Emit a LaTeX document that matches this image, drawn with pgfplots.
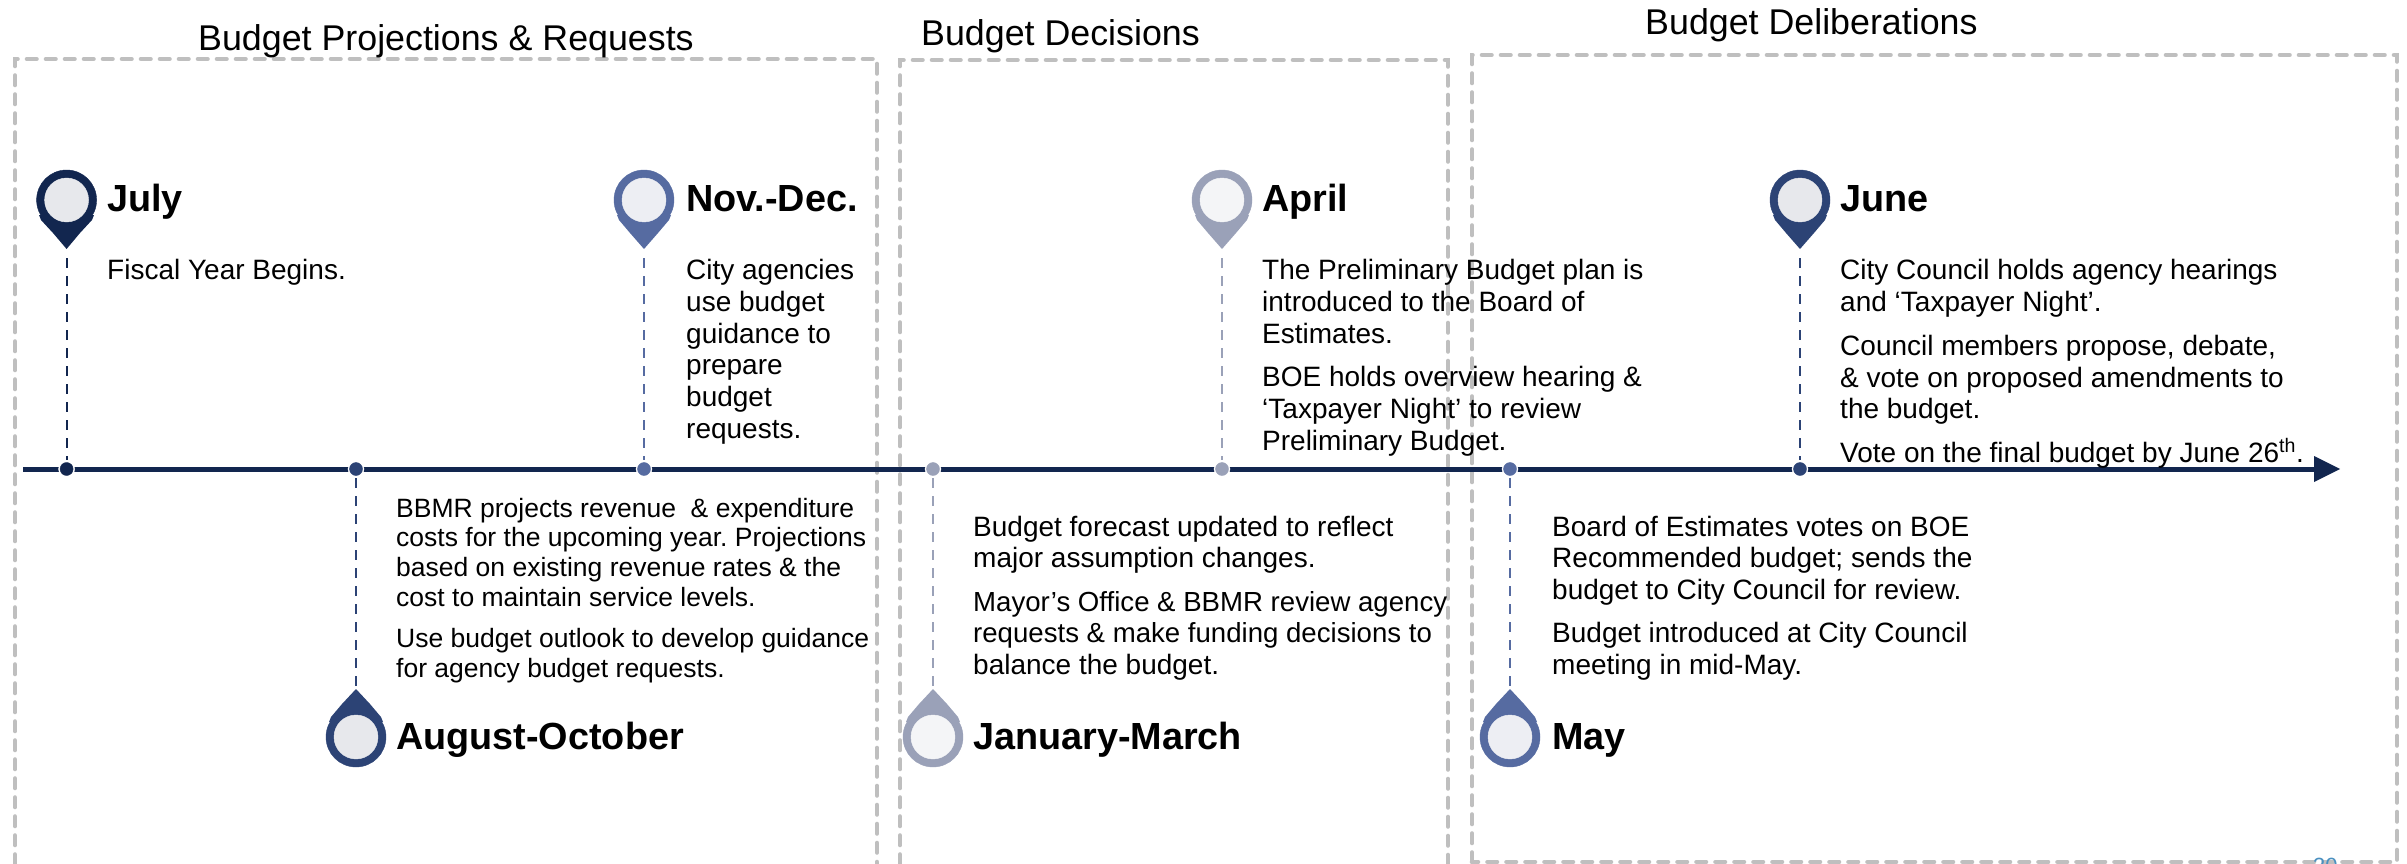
\documentclass[border=0pt]{standalone}
\usepackage{pgfplots}
\pgfplotsset{compat=1.18}
\usepackage{fontspec}
\setmainfont{Liberation Sans}
\frenchspacing
\definecolor{navy}{HTML}{12264F}
\definecolor{mid}{HTML}{2C4375}
\definecolor{blu}{HTML}{566BA1}
\definecolor{gry}{HTML}{9AA1B8}
\definecolor{box}{HTML}{BFBFBF}
\definecolor{inA}{HTML}{E7E8EC}
\definecolor{inB}{HTML}{EDEEF3}
\definecolor{inC}{HTML}{F4F5F7}
\definecolor{pageno}{HTML}{4A90C0}
\newcommand{\T}[3]{\node[anchor=base west,inner sep=0pt,font=\fontsize{28}{32}\selectfont] at (axis cs:#1,#2) {#3};}
\newcommand{\J}[3]{\node[anchor=base west,inner sep=0pt,font=\fontsize{27.6}{32}\selectfont] at (axis cs:#1,#2) {#3};}
\newcommand{\A}[3]{\node[anchor=base west,inner sep=0pt,font=\fontsize{26.5}{30}\selectfont] at (axis cs:#1,#2) {#3};}
\newcommand{\HH}[3]{\node[anchor=base west,inner sep=0pt,font=\fontsize{37.8}{42}\selectfont\bfseries] at (axis cs:#1,#2) {#3};}
\newcommand{\TT}[3]{\node[anchor=base west,inner sep=0pt,font=\fontsize{35.8}{40}\selectfont] at (axis cs:#1,#2) {#3};}
\begin{document}
\begin{tikzpicture}
\useasboundingbox (0,0) rectangle (2407pt,864pt);
\begin{axis}[scale only axis,width=2407pt,height=864pt,xmin=0,xmax=2407,ymin=0,ymax=864,y dir=reverse,hide axis,clip=true]
\addplot[box,line width=4.6pt,line cap=round,dash pattern=on 9.5pt off 9.5pt] coordinates {(15,864)(15,59)(877,59)(877,864)};
\addplot[box,line width=4.6pt,line cap=round,dash pattern=on 9.5pt off 9.5pt] coordinates {(900,864)(900,60)(1448,60)(1448,864)};
\addplot[box,line width=4.6pt,line cap=round,dash pattern=on 9.5pt off 9.5pt] coordinates {(1472,862)(1472,55)(2397,55)(2397,862)(1472,862)};
\addplot[navy,line width=5pt] coordinates {(23,469)(2316,469)};
\addplot[fill=navy,draw=none] coordinates {(2314,456)(2340,469)(2314,482)} --cycle;
% dashed stems
\addplot[navy,line width=2pt,dash pattern=on 10pt off 8pt] coordinates {(66.6,258)(66.6,460)};
\addplot[mid,line width=2pt,dash pattern=on 10pt off 8pt] coordinates {(356,478)(356,686)};
\addplot[blu,line width=2pt,dash pattern=on 10pt off 8pt] coordinates {(644,258)(644,460)};
\addplot[gry,line width=2pt,dash pattern=on 10pt off 8pt] coordinates {(933,478)(933,686)};
\addplot[gry,line width=2pt,dash pattern=on 10pt off 8pt] coordinates {(1222,258)(1222,460)};
\addplot[blu,line width=2pt,dash pattern=on 10pt off 8pt] coordinates {(1510,478)(1510,686)};
\addplot[mid,line width=2pt,dash pattern=on 10pt off 8pt] coordinates {(1800,258)(1800,460)};
% axis dots with white halo
\addplot[only marks,mark=*,mark size=8pt,mark options={draw=white,fill=white}] coordinates {(66.6,469)(356,469)(644,469)(933,469)(1222,469)(1510,469)(1800,469)};
\addplot[only marks,mark=*,mark size=6.5pt,mark options={fill=navy,draw=navy}] coordinates {(66.6,469)};
\addplot[only marks,mark=*,mark size=6.5pt,mark options={fill=mid,draw=mid}] coordinates {(356,469)(1800,469)};
\addplot[only marks,mark=*,mark size=6.5pt,mark options={fill=blu,draw=blu}] coordinates {(644,469)(1510,469)};
\addplot[only marks,mark=*,mark size=6.5pt,mark options={fill=gry,draw=gry}] coordinates {(933,469)(1222,469)};
% pin tips
\addplot[fill=navy,draw=none] coordinates {(39,215)(41,220)(53,233)(66.6,249)(80,233)(92,220)(94,215)} --cycle;
\addplot[fill=blu,draw=none] coordinates {(617,215)(619,220)(630,233)(644,249)(658,233)(669,220)(671,215)} --cycle;
\addplot[fill=gry,draw=none] coordinates {(1195,215)(1197,220)(1208,233)(1222,249)(1236,233)(1247,220)(1249,215)} --cycle;
\addplot[fill=mid,draw=none] coordinates {(1773,215)(1775,220)(1786,233)(1800,249)(1814,233)(1825,220)(1827,215)} --cycle;
\addplot[fill=mid,draw=none] coordinates {(329,722)(331,717)(342,704)(356,689)(370,704)(381,717)(383,722)} --cycle;
\addplot[fill=gry,draw=none] coordinates {(906,722)(908,717)(919,704)(933,689)(947,704)(958,717)(960,722)} --cycle;
\addplot[fill=blu,draw=none] coordinates {(1483,722)(1485,717)(1496,704)(1510,689)(1524,704)(1535,717)(1537,722)} --cycle;
% pin heads
\addplot[only marks,mark=*,mark size=30pt,mark options={fill=navy,draw=navy}] coordinates {(66.6,200)};
\addplot[only marks,mark=*,mark size=30pt,mark options={fill=mid,draw=mid}] coordinates {(356,737)(1800,200)};
\addplot[only marks,mark=*,mark size=30pt,mark options={fill=blu,draw=blu}] coordinates {(644,200)(1510,737)};
\addplot[only marks,mark=*,mark size=30pt,mark options={fill=gry,draw=gry}] coordinates {(933,737)(1222,200)};
\addplot[only marks,mark=*,mark size=22pt,mark options={fill=inA,draw=inA}] coordinates {(66.6,200)(356,737)(1800,200)};
\addplot[only marks,mark=*,mark size=22pt,mark options={fill=inB,draw=inB}] coordinates {(644,200)(1510,737)};
\addplot[only marks,mark=*,mark size=22pt,mark options={fill=inC,draw=inC}] coordinates {(933,737)(1222,200)};
% titles
\TT{198}{51}{Budget Projections \& Requests}
\TT{921}{46}{Budget Decisions}
\TT{1645}{35}{Budget Deliberations}
% headers
\HH{107}{211}{July}
\HH{686}{211}{Nov.-Dec.}
\HH{1262}{211}{April}
\HH{1840}{211}{June}
\HH{396}{749}{August-October}
\HH{973}{749}{January-March}
\HH{1552}{749}{May}
% text
\T{107}{279}{Fiscal Year Begins.}
\T{686}{279}{City agencies}
\T{686}{311}{use budget}
\T{686}{343}{guidance to}
\T{686}{374}{prepare}
\T{686}{406}{budget}
\T{686}{438}{requests.}
\A{396}{517}{BBMR projects revenue \ \& expenditure}
\A{396}{546}{costs for the upcoming year. Projections}
\A{396}{576}{based on existing revenue rates \& the}
\A{396}{606}{cost to maintain service levels.}
\A{396}{647}{Use budget outlook to develop guidance}
\A{396}{677}{for agency budget requests.}
\T{1262}{279}{The Preliminary Budget plan is}
\T{1262}{311}{introduced to the Board of}
\T{1262}{343}{Estimates.}
\T{1262}{386}{BOE holds overview hearing \&}
\T{1262}{418}{‘Taxpayer Night’ to review}
\T{1262}{450}{Preliminary Budget.}
\T{973}{536}{Budget forecast updated to reflect}
\T{973}{567}{major assumption changes.}
\J{973}{611}{Mayor’s Office \& BBMR review agency}
\J{973}{642}{requests \& make funding decisions to}
\T{973}{674}{balance the budget.}
\T{1552}{536}{Board of Estimates votes on BOE}
\T{1552}{567}{Recommended budget; sends the}
\T{1552}{599}{budget to City Council for review.}
\T{1552}{642}{Budget introduced at City Council}
\T{1552}{674}{meeting in mid-May.}
\T{1840}{279}{City Council holds agency hearings}
\T{1840}{311}{and ‘Taxpayer Night’.}
\T{1840}{355}{Council members propose, debate,}
\T{1840}{387}{\& vote on proposed amendments to}
\T{1840}{418}{the budget.}
\T{1840}{462}{Vote on the final budget by June 26\textsuperscript{th}.}
\node[anchor=base west,inner sep=0pt,text=pageno,font=\fontsize{22}{24}\selectfont] at (axis cs:2313,873) {30};
\end{axis}
\end{tikzpicture}
\end{document}
